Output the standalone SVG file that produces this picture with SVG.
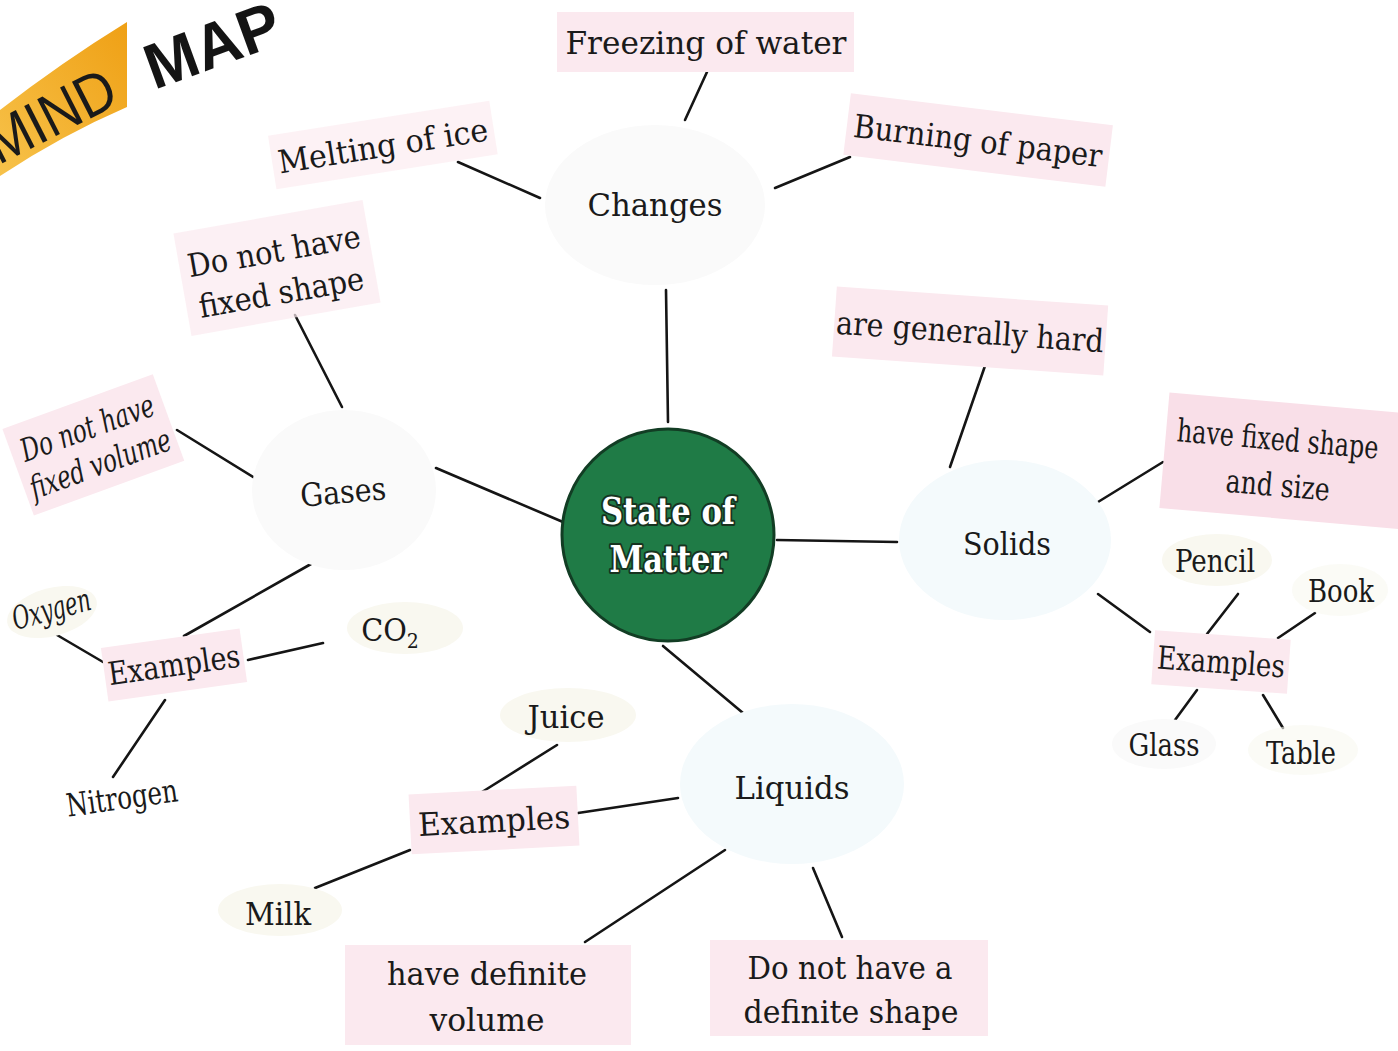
<svg xmlns="http://www.w3.org/2000/svg" width="1398" height="1051" viewBox="0 0 1398 1051">
<defs>
<style>
.t{font-family:"DejaVu Serif Condensed","DejaVu Serif","Liberation Serif",serif;font-size:32px;fill:#1a1a1a;text-anchor:middle}
.i{font-style:italic}
.ln{stroke:#151515;stroke-width:2.6;fill:none;stroke-linecap:round}
.pk{fill:#fbe9ef}
.pk2{fill:#f9dfe8}
.bb{fill:#f4fafc}
.bg{fill:#fafafa}
.by{fill:#f9f8f0}
.ctr{font-family:"DejaVu Serif Condensed","DejaVu Serif",serif;font-weight:bold;font-size:37px;fill:#ffffff;text-anchor:middle;stroke:#17331f;stroke-width:4;paint-order:stroke;stroke-linejoin:round}
</style>
<linearGradient id="og" x1="0" y1="1" x2="1" y2="0">
<stop offset="0" stop-color="#f7c24a"/>
<stop offset="1" stop-color="#efa015"/>
</linearGradient>
</defs>
<rect width="1398" height="1051" fill="#ffffff"/>

<g id="banner">
<path d="M0,110 Q62,62 127,22 L127,107 Q62,135 0,176 Z" fill="url(#og)"/>
<text x="0" y="0" transform="translate(60,134) rotate(-27)" font-family="Liberation Sans, sans-serif" font-size="60" fill="#1a1a1a" text-anchor="middle" textLength="138" lengthAdjust="spacingAndGlyphs">MIND</text>
<text x="0" y="0" transform="translate(220,66) rotate(-20)" font-family="Liberation Sans, sans-serif" font-weight="bold" font-size="64" fill="#141414" text-anchor="middle" textLength="140" lengthAdjust="spacingAndGlyphs">MAP</text>
</g>

<g id="connectors">
<line class="ln" x1="668" y1="422" x2="666" y2="290"/>
<line class="ln" x1="685" y1="120" x2="707" y2="72"/>
<line class="ln" x1="540" y1="198" x2="458" y2="162"/>
<line class="ln" x1="775" y1="188" x2="850" y2="157"/>
<line class="ln" x1="563" y1="522" x2="436" y2="468"/>
<line class="ln" x1="342" y1="407" x2="295" y2="315"/>
<line class="ln" x1="258" y1="480" x2="177" y2="430"/>
<line class="ln" x1="311" y1="564" x2="184" y2="636"/>
<line class="ln" x1="57" y1="635" x2="103" y2="662"/>
<line class="ln" x1="248" y1="660" x2="323" y2="643"/>
<line class="ln" x1="165" y1="700" x2="113" y2="777"/>
<line class="ln" x1="777" y1="540" x2="897" y2="542"/>
<line class="ln" x1="950" y1="467" x2="986" y2="363"/>
<line class="ln" x1="1098" y1="502" x2="1163" y2="462"/>
<line class="ln" x1="1098" y1="594" x2="1150" y2="632"/>
<line class="ln" x1="1238" y1="594" x2="1207" y2="634"/>
<line class="ln" x1="1315" y1="613" x2="1278" y2="638"/>
<line class="ln" x1="1197" y1="690" x2="1175" y2="720"/>
<line class="ln" x1="1263" y1="695" x2="1283" y2="728"/>
<line class="ln" x1="663" y1="646" x2="743" y2="713"/>
<line class="ln" x1="678" y1="798" x2="578" y2="813"/>
<line class="ln" x1="557" y1="745" x2="482" y2="792"/>
<line class="ln" x1="410" y1="850" x2="315" y2="888"/>
<line class="ln" x1="725" y1="850" x2="585" y2="942"/>
<line class="ln" x1="813" y1="868" x2="842" y2="937"/>
</g>

<g id="state-of-matter">
<circle cx="668" cy="535" r="106" fill="#1f7b46" stroke="#123d24" stroke-width="3"/>
<text class="ctr" x="668" y="524" textLength="134" lengthAdjust="spacingAndGlyphs">State of</text>
<text class="ctr" x="668" y="572" textLength="117" lengthAdjust="spacingAndGlyphs">Matter</text>
</g>

<g id="changes">
<ellipse class="bg" cx="655" cy="205" rx="110" ry="80"/>
<text class="t" x="655" y="216" textLength="135" lengthAdjust="spacingAndGlyphs">Changes</text>
</g>
<g id="freezing">
<rect class="pk" x="557" y="12" width="297" height="60"/>
<text class="t" x="706" y="54" textLength="281" lengthAdjust="spacingAndGlyphs">Freezing of water</text>
</g>
<g id="melting" transform="translate(383,146) rotate(-9)">
<rect class="pk" x="-112" y="-28" width="224" height="54" fill-opacity="0.6"/>
<text class="t" x="0" y="11" textLength="212" lengthAdjust="spacingAndGlyphs">Melting of ice</text>
</g>
<g id="burning" transform="translate(978,141) rotate(7)">
<rect class="pk" x="-132" y="-32" width="264" height="62"/>
<text class="t" x="0" y="11" textLength="250" lengthAdjust="spacingAndGlyphs">Burning of paper</text>
</g>

<g id="gases">
<ellipse class="bg" cx="344" cy="490" rx="92" ry="80"/>
<text class="t" x="0" y="0" transform="translate(344,503) rotate(-5)" textLength="86" lengthAdjust="spacingAndGlyphs">Gases</text>
</g>
<g id="no-fixed-shape" transform="translate(277,268) rotate(-10)">
<rect class="pk" x="-96" y="-52" width="192" height="104" fill-opacity="0.7"/>
<text class="t" x="0" y="-6" textLength="175" lengthAdjust="spacingAndGlyphs">Do not have</text>
<text class="t" x="0" y="36" textLength="167" lengthAdjust="spacingAndGlyphs">fixed shape</text>
</g>
<g id="no-fixed-volume" transform="translate(93,444) rotate(-20)">
<rect class="pk" x="-80" y="-45" width="160" height="92"/>
<text class="t i" x="0" y="-6" font-size="29" textLength="140" lengthAdjust="spacingAndGlyphs">Do not have</text>
<text class="t i" x="0" y="32" font-size="29" textLength="148" lengthAdjust="spacingAndGlyphs">fixed volume</text>
</g>
<g id="gases-examples" transform="translate(174,665) rotate(-8)">
<rect class="pk" x="-70" y="-27" width="140" height="54"/>
<text class="t" x="0" y="11" textLength="133" lengthAdjust="spacingAndGlyphs">Examples</text>
</g>
<g id="oxygen" transform="translate(52,612) rotate(-15)">
<ellipse class="by" cx="0" cy="0" rx="46" ry="24"/>
<text class="t i" x="0" y="8" font-size="25" textLength="80" lengthAdjust="spacingAndGlyphs">Oxygen</text>
</g>
<g id="co2">
<ellipse class="by" cx="405" cy="628" rx="58" ry="26"/>
<text class="t" x="390" y="641">CO<tspan font-size="21" dy="7">2</tspan></text>
</g>
<g id="nitrogen" transform="translate(122,799) rotate(-8)">
<text class="t" x="0" y="10" font-size="29" textLength="112" lengthAdjust="spacingAndGlyphs">Nitrogen</text>
</g>

<g id="solids">
<ellipse class="bb" cx="1005" cy="540" rx="106" ry="80"/>
<text class="t" x="1007" y="555" textLength="88" lengthAdjust="spacingAndGlyphs">Solids</text>
</g>
<g id="generally-hard" transform="translate(970,332) rotate(4)">
<rect class="pk" x="-136" y="-36" width="272" height="70"/>
<text class="t" x="0" y="11" textLength="268" lengthAdjust="spacingAndGlyphs">are generally hard</text>
</g>
<g id="fixed-shape-size" transform="translate(1276,460) rotate(5)">
<rect class="pk2" x="-112" y="-58" width="240" height="116"/>
<text class="t" x="0" y="-10" textLength="202" lengthAdjust="spacingAndGlyphs">have fixed shape</text>
<text class="t" x="4" y="36" textLength="104" lengthAdjust="spacingAndGlyphs">and size</text>
</g>
<g id="solids-examples" transform="translate(1221,662) rotate(4)">
<rect class="pk" x="-68" y="-27" width="136" height="54"/>
<text class="t" x="0" y="11" textLength="128" lengthAdjust="spacingAndGlyphs">Examples</text>
</g>
<g id="pencil">
<ellipse class="by" cx="1217" cy="560" rx="55" ry="26"/>
<text class="t" x="1215" y="572" font-size="30" textLength="80" lengthAdjust="spacingAndGlyphs">Pencil</text>
</g>
<g id="book">
<ellipse class="by" cx="1340" cy="590" rx="48" ry="26" fill-opacity="0.6"/>
<text class="t" x="1341" y="602" font-size="30" textLength="66" lengthAdjust="spacingAndGlyphs">Book</text>
</g>
<g id="glass">
<ellipse class="bg" cx="1164" cy="744" rx="52" ry="25"/>
<text class="t" x="1164" y="756" font-size="30" textLength="71" lengthAdjust="spacingAndGlyphs">Glass</text>
</g>
<g id="table">
<ellipse class="by" cx="1303" cy="750" rx="55" ry="25" fill-opacity="0.6"/>
<text class="t" x="1301" y="764" font-size="30" textLength="70" lengthAdjust="spacingAndGlyphs">Table</text>
</g>

<g id="liquids">
<ellipse class="bb" cx="792" cy="784" rx="112" ry="80"/>
<text class="t" x="792" y="799" textLength="115" lengthAdjust="spacingAndGlyphs">Liquids</text>
</g>
<g id="liquids-examples" transform="translate(494,820) rotate(-3)">
<rect class="pk" x="-84" y="-30" width="168" height="60"/>
<text class="t" x="0" y="12" textLength="152" lengthAdjust="spacingAndGlyphs">Examples</text>
</g>
<g id="juice">
<ellipse class="by" cx="568" cy="715" rx="68" ry="27"/>
<text class="t" x="566" y="728" textLength="77" lengthAdjust="spacingAndGlyphs">Juice</text>
</g>
<g id="milk">
<ellipse class="by" cx="280" cy="910" rx="62" ry="26"/>
<text class="t" x="278" y="925" textLength="66" lengthAdjust="spacingAndGlyphs">Milk</text>
</g>
<g id="definite-volume">
<rect class="pk" x="345" y="945" width="286" height="100"/>
<text class="t" x="487" y="985" textLength="200" lengthAdjust="spacingAndGlyphs">have definite</text>
<text class="t" x="487" y="1031" textLength="115" lengthAdjust="spacingAndGlyphs">volume</text>
</g>
<g id="no-definite-shape">
<rect class="pk" x="710" y="940" width="278" height="96"/>
<text class="t" x="850" y="979" textLength="205" lengthAdjust="spacingAndGlyphs">Do not have a</text>
<text class="t" x="851" y="1023" textLength="215" lengthAdjust="spacingAndGlyphs">definite shape</text>
</g>
</svg>
